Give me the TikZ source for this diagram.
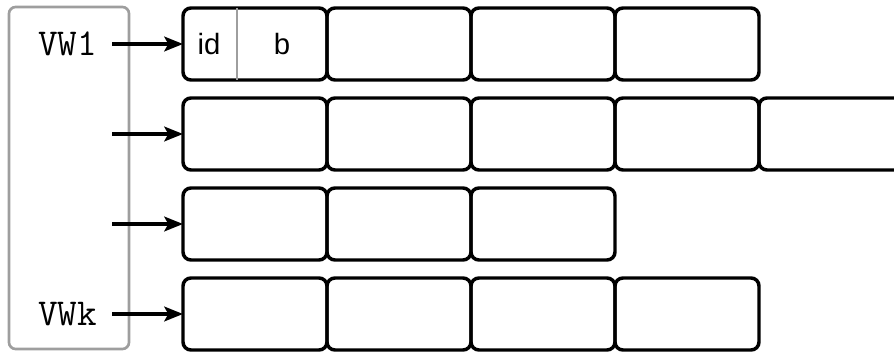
\documentclass[tikz,border=0pt]{standalone}
\usepackage{fontspec}
\setmainfont{Liberation Sans}
\usetikzlibrary{arrows.meta,positioning}

\tikzset{
  cell/.style={draw, line width=2.6pt, rounded corners=6pt,
    minimum width=108pt, minimum height=54pt, inner sep=0pt, outer sep=0pt},
  holder/.style={draw=black!38, line width=2pt, rounded corners=5pt,
    minimum width=90pt, minimum height=256.5pt, inner sep=0pt},
  divider/.style={draw=black!38, line width=1.8pt},
  viewlbl/.style={font=\ttfamily\fontsize{28.5}{32}\selectfont, inner xsep=11pt, inner ysep=0pt},
  fieldlbl/.style={font=\fontsize{22}{26}\selectfont, inner sep=0pt},
  ptr/.style={-{Stealth[length=14pt,width=11pt,inset=3pt]}, line width=2.6pt}
}

\begin{document}
\begin{tikzpicture}[x=0.75pt,y=-0.75pt]
  \useasboundingbox (0,0) rectangle (894,356);
  \clip (0,0) rectangle (894,356);

  % holder of the views
  \node[holder] (vw) at (69,178) {};

  % rows of cells
  \foreach \r/\n in {1/4,2/5,3/3,4/4}
    \foreach \c in {1,...,\n}
      \node[cell] (r\r c\c) at ({255+144*(\c-1)},{44+90*(\r-1)}) {};

  % first cell holds id and b
  \draw[divider] ([xshift=40.5pt]r1c1.north west) -- ([xshift=40.5pt]r1c1.south west);
  \node[fieldlbl] (id) at (209,44) {id};
  \node[fieldlbl] (b) at (282,44) {b};

  % view names and pointers
  \node[viewlbl, anchor=east] (vw1) at (112,44) {VW1};
  \node[viewlbl, anchor=east] (vwk) at (112,314) {VWk};
  \coordinate (s2) at (112,134);
  \coordinate (s3) at (112,224);

  \draw[ptr] (vw1.east) -- (r1c1.west);
  \draw[ptr] (s2) -- (r2c1.west);
  \draw[ptr] (s3) -- (r3c1.west);
  \draw[ptr] (vwk.east) -- (r4c1.west);
\end{tikzpicture}
\end{document}
